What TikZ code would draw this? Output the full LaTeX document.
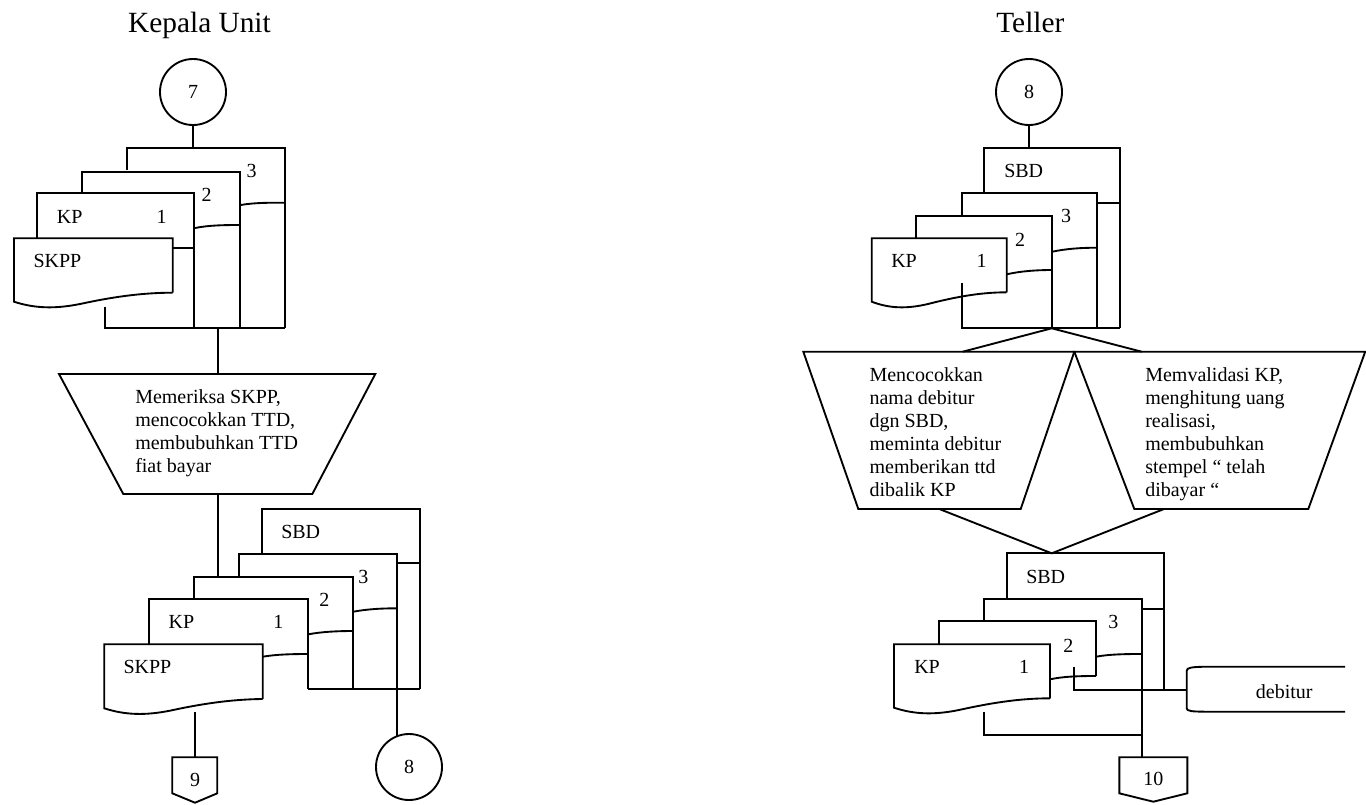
\documentclass[tikz,border=0pt]{standalone}
\usepackage{fontspec}
\setmainfont{Liberation Serif}
\begin{document}
\begin{tikzpicture}[x=0.75pt,y=-0.75pt,
  ln/.style={line width=1.4pt, line join=miter},
  txt/.style={font=\fontsize{15}{17.3}\selectfont, inner sep=0pt},
  ttl/.style={font=\fontsize{22}{26}\selectfont, inner sep=0pt, anchor=base},
  conn/.style={draw, line width=1.4pt, circle, minimum size=49.5pt, inner sep=0pt, font=\fontsize{15}{17}\selectfont},
  proc/.style={txt, align=left, anchor=north west}]
\useasboundingbox (0,0) rectangle (1366,804);

% ---------------- Kepala Unit ----------------
\node[ttl] (tku) at (199.5,32.7) {Kepala Unit};
\node[conn] (c7) at (193,92) {7};
\draw[ln] (c7.south) -- (193,148.3);

% document stack: KP 3, KP 2, KP 1, SKPP
\draw[ln] (126.7,170) -- (126.7,148.3) -- (285,148.3) -- (285,328.3);
\draw[ln] (240.7,205) .. controls +(14,-2.4) and +(-16,0) .. (285,202.7);
\node[txt] (k3) at (251.7,171) {3};
\draw[ln] (81.7,193.3) -- (81.7,171.7) -- (240,171.7) -- (240,328.3);
\draw[ln] (195,228) .. controls +(14,-2.8) and +(-16,0) .. (240,225);
\node[txt] (k2) at (206.7,195) {2};
\draw[ln] (36.7,238.3) -- (36.7,193.3) -- (194.3,193.3) -- (194.3,328.3);
\draw[ln] (172.7,247.7) -- (194.3,247.7);
\node[txt, anchor=west] (kkp) at (56.7,216.7) {KP};
\node[txt] (k1) at (161.7,216.7) {1};
\draw[ln] (172.7,292.7) -- (172.7,238.3) -- (14,238.3) -- (14,301.7)
  .. controls (35,308.5) and (55,309) .. (80,304)
  .. controls (110,297.5) and (140,292.7) .. (172.7,292.7);
\node[txt, anchor=west] (kskpp) at (33.3,261) {SKPP};
\draw[ln] (105,306.7) -- (105,328.3) -- (285,328.3);
\coordinate (ka) at (217.6,328.3);

% process
\draw[ln] (59,374) -- (375.3,374) -- (312.3,494) -- (123.3,494) -- cycle;
\coordinate (kpt) at (217.6,374);
\coordinate (kpb) at (217.6,494);
\draw[ln] (ka) -- (kpt);
\node[proc] (kproc) at (135,389) {Memeriksa SKPP,\\mencocokkan TTD,\\membubuhkan TTD\\fiat bayar};
\coordinate (kb) at (217.6,577.3);
\draw[ln] (kpb) -- (kb);

% document stack: SBD, KP 3, KP 2, KP 1, SKPP
\draw[ln] (261.7,553.3) -- (261.7,509.3) -- (420,509.3) -- (420,689.3);
\draw[ln] (397.3,562.7) -- (420,562.7);
\node[txt, anchor=west] (ksbd) at (281,532.3) {SBD};
\draw[ln] (239.3,576.7) -- (239.3,554.3) -- (397.3,554.3) -- (397.3,736);
\draw[ln] (353.3,611.7) .. controls +(14,-2.6) and +(-16,0) .. (397.3,608.3);
\node[txt] (kb3) at (363.3,577.3) {3};
\draw[ln] (194.3,599.3) -- (194.3,577.3) -- (353.3,577.3) -- (353.3,689.3);
\draw[ln] (308.3,634.3) .. controls +(14,-2.6) and +(-16,0) .. (353.3,631);
\node[txt] (kb2) at (324.3,600) {2};
\draw[ln] (149.3,644.3) -- (149.3,599.3) -- (308.3,599.3) -- (308.3,689.3);
\draw[ln] (262.7,656.7) .. controls +(14,-2.4) and +(-16,0) .. (308.3,654);
\node[txt, anchor=west] (kbkp) at (168.3,622.3) {KP};
\node[txt] (kb1) at (278.3,622.3) {1};
\draw[ln] (262.7,699) -- (262.7,644.3) -- (104.3,644.3) -- (104.3,708.3)
  .. controls (125.3,715.1) and (145.3,715.6) .. (170.3,710.6)
  .. controls (200.3,704.1) and (230.3,699.3) .. (262.7,699);
\node[txt, anchor=west] (kbskpp) at (123.3,666.7) {SKPP};
\draw[ln] (308.3,689.3) -- (420,689.3);

% off-page connector 9 and connector 8
\coordinate (ks) at (195,712.3);
\coordinate (p9) at (195,757.3);
\draw[ln] (ks) -- (p9);
\draw[ln] (172.3,757.3) -- (217.3,757.3) -- (217.3,793.3) -- (195,802.7) -- (172.3,793.3) -- cycle;
\node[txt] (n9) at (195,780) {9};
\node[conn] (c8a) at (409,767) {8};

% ---------------- Teller ----------------
\node[ttl] (ttel) at (1030.3,32.7) {Teller};
\node[conn] (c8b) at (1029,92) {8};
\draw[ln] (c8b.south) -- (1029,148.3);

% document stack: SBD, KP 3, KP 2, KP 1
\draw[ln] (984.3,193.3) -- (984.3,148.3) -- (1120,148.3) -- (1120,328.3);
\draw[ln] (1097.3,202.7) -- (1120,202.7);
\node[txt, anchor=west] (tsbd) at (1004,171) {SBD};
\draw[ln] (961.7,215.7) -- (961.7,193.3) -- (1097.3,193.3) -- (1097.3,328.3);
\draw[ln] (1052.3,251.7) .. controls +(14,-3) and +(-16,0) .. (1097.3,247.7);
\node[txt] (t3) at (1066,216) {3};
\draw[ln] (916,238.3) -- (916,215.7) -- (1052.3,215.7) -- (1052.3,328.3);
\draw[ln] (1006.7,274.3) .. controls +(14,-3.2) and +(-16,0) .. (1052.3,270);
\node[txt] (t2) at (1020,240) {2};
\draw[ln] (1006.7,292.3) -- (1006.7,238.3) -- (871.7,238.3) -- (871.7,301.7)
  .. controls (889.6,308.5) and (906.6,309) .. (927.9,304)
  .. controls (953.4,297.5) and (979,292.3) .. (1006.7,292.3);
\node[txt, anchor=west] (tkp) at (891,261) {KP};
\node[txt] (t1) at (981.7,261) {1};
\draw[ln] (961.7,283.3) -- (961.7,328.3) -- (1120,328.3);
\coordinate (j1) at (1051.7,328.3);

% two processes
\draw[ln] (803.3,351.7) -- (1074.3,351.7) -- (1020.7,509) -- (858.3,509) -- cycle;
\draw[ln] (1074.3,351.7) -- (1365.2,351.7) -- (1308.3,509) -- (1134.3,509) -- cycle;
\coordinate (plt) at (962.7,351.7);
\coordinate (prt) at (1141.7,351.7);
\coordinate (plb) at (939.3,509);
\coordinate (prb) at (1164,509);
\draw[ln] (plt) -- (j1) -- (prt);
\node[proc] (tpl) at (869.3,367) {Mencocokkan\\nama debitur\\dgn SBD,\\meminta debitur\\memberikan ttd\\dibalik KP};
\node[proc] (tpr) at (1145,367) {Memvalidasi KP,\\menghitung uang\\realisasi,\\membubuhkan\\stempel “ telah\\dibayar “};
\coordinate (j2) at (1051.7,553.3);
\draw[ln] (plb) -- (j2) -- (prb);

% document stack: SBD, KP 3, KP 2, KP 1
\draw[ln] (1006.7,599.3) -- (1006.7,553.3) -- (1164.3,553.3) -- (1164.3,690);
\draw[ln] (1142.3,609) -- (1164.3,609);
\node[txt, anchor=west] (tbsbd) at (1026,576.7) {SBD};
\draw[ln] (984.3,621) -- (984.3,599.3) -- (1142.3,599.3) -- (1142.3,757.3);
\draw[ln] (1096,656.7) .. controls +(14,-2.6) and +(-16,0) .. (1142.3,654);
\node[txt] (tb3) at (1113.3,621.7) {3};
\draw[ln] (939.3,644.3) -- (939.3,621) -- (1096,621) -- (1096,676);
\draw[ln] (1050,679.3) .. controls +(14,-3) and +(-16,0) .. (1096,676);
\node[txt] (tb2) at (1068.3,646) {2};
\draw[ln] (1050,698.3) -- (1050,644.3) -- (894,644.3) -- (894,707.7)
  .. controls (914.6,714.5) and (934.3,715) .. (958.9,710)
  .. controls (988.4,703.5) and (1017.9,698.3) .. (1050,698.3);
\node[txt, anchor=west] (tbkp) at (914,666.7) {KP};
\node[txt] (tb1) at (1024,666.7) {1};

% routing to debitur and to connector 10
\coordinate (deb) at (1186.7,690);
\draw[ln] (1074.3,666.7) -- (1074.3,690) -- (deb);
\draw[ln] (984.3,712.3) -- (984.3,735) -- (1142.3,735);
\draw[ln] (1119.3,757.3) -- (1187.3,757.3) -- (1187.3,793.3) -- (1153.3,801.7) -- (1119.3,793.3) -- cycle;
\node[txt] (n10) at (1153.3,779.3) {10};

% debitur
\draw[ln] (1345,666.7) -- (1206.7,666.7) .. controls (1192,666.9) and (1186.7,667.5) .. (1186.7,670.7)
  -- (1186.7,708.3) .. controls (1186.7,711.2) and (1192,711.6) .. (1206.7,711.7) -- (1345,711.7);
\node[txt] (tdeb) at (1284.3,691.2) {debitur};
\end{tikzpicture}
\end{document}
